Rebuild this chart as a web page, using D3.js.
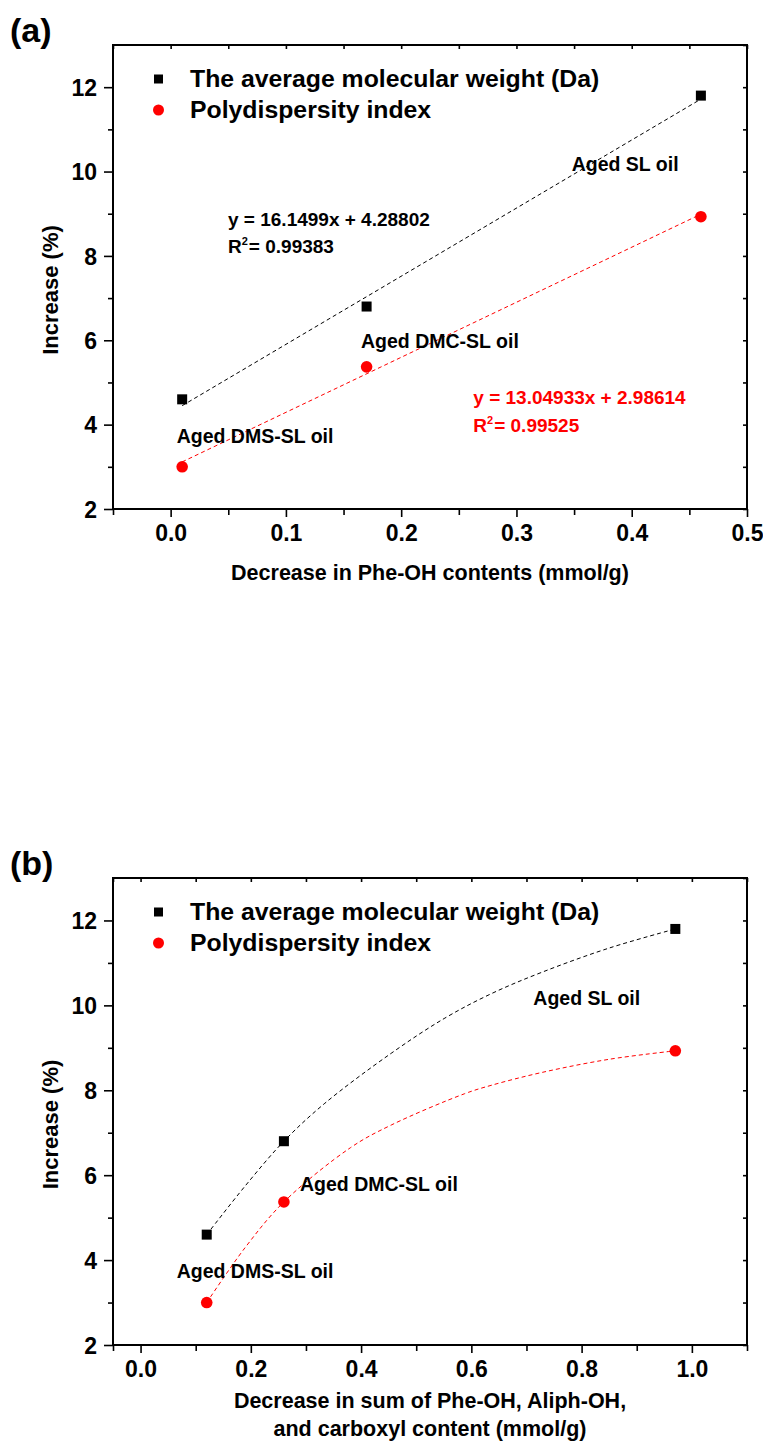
<!DOCTYPE html>
<html>
<head>
<meta charset="utf-8">
<script src="https://cdn.jsdelivr.net/npm/d3@7"></script>
<style>
  body { margin: 0; background: #fff; }
  svg text { font-family: "Liberation Sans", Arial, sans-serif; font-weight: bold; }
</style>
</head>
<body>
<div id="chart"></div>
<script>
// sample names and measured values
const samples = ['Aged DMS-SL oil', 'Aged DMC-SL oil', 'Aged SL oil'];
const mwIncrease = [4.6, 6.8, 11.8];
const pdiIncrease = [3.0, 5.37, 8.93];
const pheOhDecrease = [0.01, 0.17, 0.46];
const sumOhDecrease = [0.12, 0.26, 0.97];

// linear fits printed on panel (a): [slope, intercept]
const fitMw = [16.1499, 4.28802];
const fitPdi = [13.04933, 2.98614];
const fitMwR2 = '0.99383';
const fitPdiR2 = '0.99525';

// fitted curves of panel (b)
const curveMwX = [0.12, 0.19, 0.26, 0.333, 0.4545, 0.552, 0.637, 0.728, 0.85, 0.97];
const curveMwY = [4.6, 5.75, 6.8, 7.68, 8.87, 9.7, 10.28, 10.78, 11.35, 11.8];
const curvePdiX = [0.12, 0.19, 0.26, 0.381, 0.4545, 0.588, 0.637, 0.728, 0.85, 0.97];
const curvePdiY = [3.0, 4.3, 5.37, 6.65, 7.18, 7.92, 8.12, 8.42, 8.73, 8.93];

// ticks
const yMajor = [2, 4, 6, 8, 10, 12];
const yMinor = [3, 5, 7, 9, 11, 13];
const xMajorA = [0.0, 0.1, 0.2, 0.3, 0.4, 0.5];
const xMinorA = [-0.05, 0.05, 0.15, 0.25, 0.35, 0.45];
const xMajorB = [0.0, 0.2, 0.4, 0.6, 0.8, 1.0];
const xMinorB = [-0.05, 0.1, 0.3, 0.5, 0.7, 0.9, 1.1];

const legendLabels = ['The average molecular weight (Da)', 'Polydispersity index'];

const width = 763;
const height = 1441;
const red = '#ff0000';

const svg = d3
  .select('#chart')
  .append('svg')
  .attr('width', width)
  .attr('height', height)
  .style('background', '#fff');

const drawPanel = (cfg) => {
  const g = svg.append('g');
  const x = d3.scaleLinear().domain(cfg.xDomain).range([113, 747]);
  const y = d3.scaleLinear().domain([2, 13]).range([cfg.bottom, cfg.top]);

  // panel letter
  g.append('text')
    .attr('x', 10)
    .attr('y', cfg.top - 3)
    .style('font-size', '34px')
    .text(cfg.letter);

  // axes
  const styleAxis = (sel) => {
    sel.select('.domain').remove();
    sel.selectAll('line').attr('stroke', '#000').attr('stroke-width', 1.6);
    sel.selectAll('text').attr('fill', '#000').style('font-size', '23px');
  };

  g.append('g')
    .attr('transform', `translate(113,0)`)
    .call(d3.axisLeft(y).tickValues(yMajor).tickSize(9).tickPadding(7).tickFormat(d3.format('d')))
    .call(styleAxis)
    .selectAll('text')
    .attr('dy', '0.36em');
  g.append('g')
    .attr('transform', `translate(113,0)`)
    .call(d3.axisLeft(y).tickValues(yMinor.filter((v) => v < 13)).tickSize(5).tickFormat(''))
    .call(styleAxis);
  g.append('g')
    .attr('transform', `translate(0,${cfg.bottom})`)
    .call(d3.axisBottom(x).tickValues(cfg.xMajor).tickSize(8).tickPadding(8).tickFormat(d3.format('.1f')))
    .call(styleAxis);
  g.append('g')
    .attr('transform', `translate(0,${cfg.bottom})`)
    .call(d3.axisBottom(x).tickValues(cfg.xMinor).tickSize(6).tickFormat(''))
    .call(styleAxis);
  // mirrored inward ticks on top and right
  g.append('g')
    .attr('transform', `translate(0,${cfg.top})`)
    .call(d3.axisBottom(x).tickValues(cfg.xMajor.concat(cfg.xMinor)).tickSize(4).tickFormat(''))
    .call(styleAxis);
  g.append('g')
    .attr('transform', `translate(747,0)`)
    .call(d3.axisLeft(y).tickValues(yMajor.concat(yMinor)).tickSize(4).tickFormat(''))
    .call(styleAxis);

  // frame
  g.append('rect')
    .attr('x', 113)
    .attr('y', cfg.top)
    .attr('width', 634)
    .attr('height', cfg.bottom - cfg.top)
    .attr('fill', 'none')
    .attr('stroke', '#000')
    .attr('stroke-width', 2);

  // axis titles
  g.append('text')
    .attr('transform', `translate(58,${(cfg.top + cfg.bottom) / 2 + 13}) rotate(-90)`)
    .attr('text-anchor', 'middle')
    .style('font-size', '22px')
    .text('Increase (%)');
  cfg.xTitle.forEach((line, i) => {
    g.append('text')
      .attr('x', 430)
      .attr('y', cfg.xTitleY + i * 28)
      .attr('text-anchor', 'middle')
      .style('font-size', '21.5px')
      .text(line);
  });

  // fit lines
  const line = d3.line().x((d) => x(d[0])).y((d) => y(d[1]));
  const fits = [
    { pts: cfg.fitMw, color: '#000' },
    { pts: cfg.fitPdi, color: red },
  ];
  fits.forEach((f) => {
    g.append('path')
      .datum(f.pts)
      .attr('d', line.curve(cfg.curve))
      .attr('fill', 'none')
      .attr('stroke', f.color)
      .attr('stroke-width', 1)
      .attr('stroke-dasharray', '4,3');
  });

  // points
  g.selectAll('.sq')
    .data(cfg.xs)
    .enter()
    .append('rect')
    .attr('x', (d) => x(d) - 5)
    .attr('y', (d, i) => y(mwIncrease[i]) - 5)
    .attr('width', 10)
    .attr('height', 10)
    .attr('fill', '#000');
  g.selectAll('.ci')
    .data(cfg.xs)
    .enter()
    .append('circle')
    .attr('cx', (d) => x(d))
    .attr('cy', (d, i) => y(pdiIncrease[i]))
    .attr('r', 5.8)
    .attr('fill', red);

  // legend
  g.append('rect')
    .attr('x', 154)
    .attr('y', cfg.legendY - 4.5)
    .attr('width', 9)
    .attr('height', 9)
    .attr('fill', '#000');
  g.append('circle')
    .attr('cx', 158.5)
    .attr('cy', cfg.legendY + 31)
    .attr('r', 5.5)
    .attr('fill', red);
  legendLabels.forEach((t, i) => {
    g.append('text')
      .attr('x', 190)
      .attr('y', cfg.legendY + 8 + i * 31)
      .style('font-size', '24.8px')
      .text(t);
  });

  // sample annotations
  samples.forEach((s, i) => {
    g.append('text')
      .attr('x', cfg.labels[i][0])
      .attr('y', cfg.labels[i][1])
      .style('font-size', '19.5px')
      .text(s);
  });
};

const fitEndpoints = (fit, xs) => [xs[0], xs[xs.length - 1]].map((v) => [v, fit[0] * v + fit[1]]);

drawPanel({
  letter: '(a)',
  top: 45,
  bottom: 509,
  xDomain: [-0.05, 0.5],
  xMajor: xMajorA,
  xMinor: xMinorA,
  xs: pheOhDecrease,
  xTitle: ['Decrease in Phe-OH contents (mmol/g)'],
  xTitleY: 580,
  fitMw: fitEndpoints(fitMw, pheOhDecrease),
  fitPdi: fitEndpoints(fitPdi, pheOhDecrease),
  curve: d3.curveLinear,
  legendY: 79,
  labels: [[176.7, 442.7], [361, 348.3], [571.7, 170.5]],
});

drawPanel({
  letter: '(b)',
  top: 878,
  bottom: 1345,
  xDomain: [-0.05, 1.1],
  xMajor: xMajorB,
  xMinor: xMinorB,
  xs: sumOhDecrease,
  xTitle: ['Decrease in sum of Phe-OH, Aliph-OH,', 'and carboxyl content (mmol/g)'],
  xTitleY: 1408,
  fitMw: d3.zip(curveMwX, curveMwY),
  fitPdi: d3.zip(curvePdiX, curvePdiY),
  curve: d3.curveCatmullRom.alpha(0.5),
  legendY: 912,
  labels: [[176.7, 1277.5], [300, 1190.5], [533.3, 1005]],
});

// fit equations on panel (a)
const eq = (x0, y0, color, fit, r2) => {
  svg.append('text')
    .attr('x', x0)
    .attr('y', y0)
    .attr('fill', color)
    .style('font-size', '19px')
    .text(`y = ${fit[0]}x + ${fit[1]}`);
  const t = svg.append('text')
    .attr('x', x0)
    .attr('y', y0 + 27.5)
    .attr('fill', color)
    .style('font-size', '19px');
  t.append('tspan').text('R');
  t.append('tspan').attr('dy', -8).style('font-size', '11px').text('2');
  t.append('tspan').attr('dy', 8).attr('dx', 1).text(`= ${r2}`);
};
eq(228, 225.5, '#000', fitMw, fitMwR2);
eq(473.3, 404, red, fitPdi, fitPdiR2);
</script>
</body>
</html>
